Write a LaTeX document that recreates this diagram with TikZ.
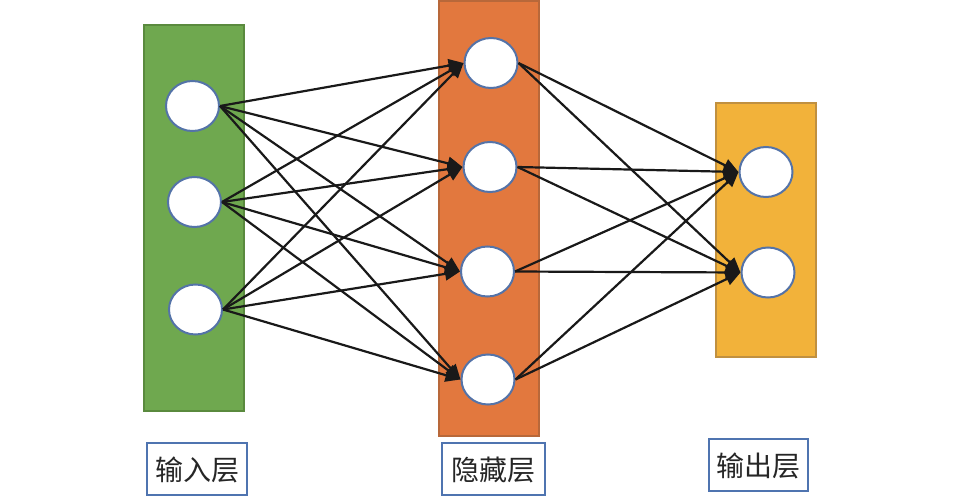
\documentclass[tikz,border=0pt]{standalone}
\usepackage{fontspec}
\newfontfamily\cjk{Noto Sans CJK SC}
\usetikzlibrary{shapes.geometric,arrows.meta}
\definecolor{lgreen}{HTML}{6FA84F}
\definecolor{lgreenb}{HTML}{5A8A3E}
\definecolor{lorange}{HTML}{E2783E}
\definecolor{lorangeb}{HTML}{B8683A}
\definecolor{lyellow}{HTML}{F2B23A}
\definecolor{lyellowb}{HTML}{C09040}
\definecolor{nodeb}{HTML}{5473A8}
\definecolor{labelb}{HTML}{4F74B0}
\tikzset{
  neuron/.style={ellipse,draw=nodeb,fill=white,line width=2pt,minimum width=53pt,minimum height=50pt,inner sep=0pt},
  layerbox/.style={line width=1.6pt},
  lbl/.style={draw=labelb,line width=2pt,font=\cjk\fontsize{28}{28}\selectfont,text=black!85,inner sep=0pt,text depth=0pt},
  conn/.style={line width=2.2pt,draw=black!90,-{Triangle[length=15pt,width=13pt]}}
}
\begin{document}
\begin{tikzpicture}[x=1pt,y=-1pt]
\useasboundingbox (0,0) rectangle (957,497);
\fill[white] (0,0) rectangle (957,497);
\draw[layerbox,fill=lgreen,draw=lgreenb] (144,25) rectangle (244,411);
\draw[layerbox,fill=lorange,draw=lorangeb] (439,1) rectangle (539,436);
\draw[layerbox,fill=lyellow,draw=lyellowb] (716,103) rectangle (816,357);
\node[neuron] (i1) at (192.5,106) {};
\node[neuron] (i2) at (194.5,202) {};
\node[neuron] (i3) at (195.5,309.5) {};
\node[neuron] (h1) at (491,63) {};
\node[neuron] (h2) at (490,167) {};
\node[neuron] (h3) at (487.5,271.5) {};
\node[neuron] (h4) at (488,379.5) {};
\node[neuron] (o1) at (766,172) {};
\node[neuron] (o2) at (768,272.5) {};
\foreach \a in {i1,i2,i3}{
  \foreach \b in {h1,h2,h3,h4}{
    \draw[conn] (\a.east) -- (\b.west);
  }
}
\foreach \a in {h1,h2,h3,h4}{
  \foreach \b in {o1,o2}{
    \draw[conn] (\a.east) -- (\b.west);
  }
}
\node[lbl,minimum width=100pt,minimum height=52pt] (l1) at (197,469) {输入层};
\node[lbl,minimum width=103pt,minimum height=52pt] (l2) at (493.5,469) {隐藏层};
\node[lbl,minimum width=99pt,minimum height=52pt] (l3) at (758.5,465) {输出层};
\end{tikzpicture}
\end{document}
